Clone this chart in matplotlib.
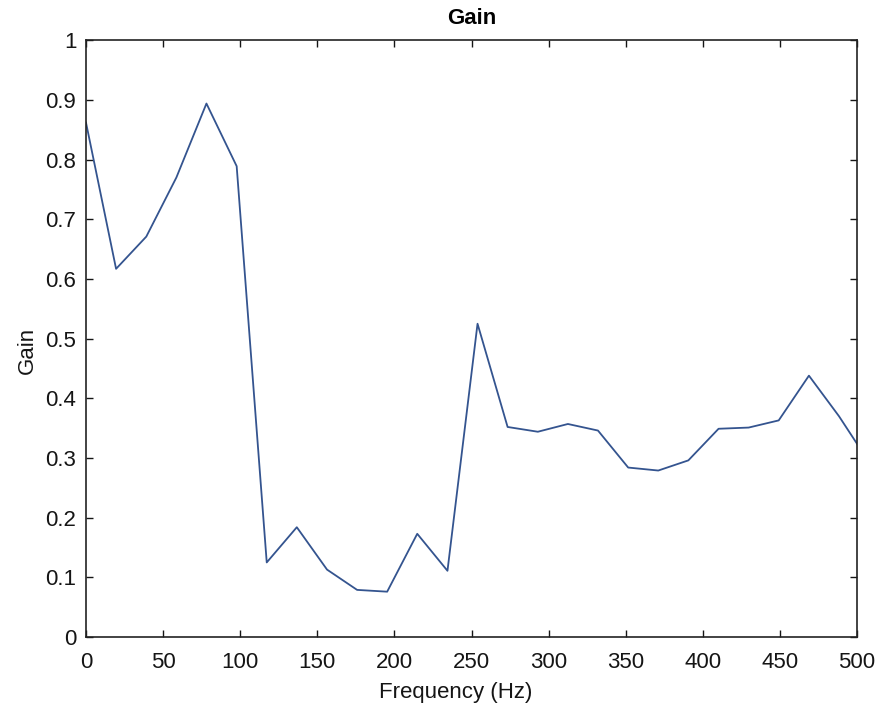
import matplotlib
matplotlib.use("Agg")
import matplotlib.pyplot as plt

# frequency bins (Hz) and measured gain
freq = [0, 19.5, 39.1, 58.6, 78.1, 97.7, 117.2, 136.7, 156.3, 175.8, 195.3,
        214.8, 234.4, 253.9, 273.4, 293.0, 312.5, 332.0, 351.6, 371.1, 390.6,
        410.2, 429.7, 449.2, 468.8, 488.3, 507.8]
gain = [0.862, 0.617, 0.671, 0.770, 0.894, 0.789, 0.125, 0.184, 0.113, 0.079,
        0.076, 0.173, 0.111, 0.525, 0.352, 0.344, 0.357, 0.346, 0.284, 0.279,
        0.296, 0.349, 0.351, 0.363, 0.438, 0.370, 0.293]

x_ticks = [0, 50, 100, 150, 200, 250, 300, 350, 400, 450, 500]
y_ticks = [0, 0.1, 0.2, 0.3, 0.4, 0.5, 0.6, 0.7, 0.8, 0.9, 1]
y_labels = ['0', '0.1', '0.2', '0.3', '0.4', '0.5', '0.6', '0.7', '0.8', '0.9', '1']

plt.rcParams['font.family'] = ['Liberation Sans', 'DejaVu Sans']

fig = plt.figure(figsize=(8.83, 7.19), dpi=100)
ax = fig.add_axes([0.0974, 0.114, 0.8732, 0.830])

ax.plot(freq, gain, color='#34548f', linewidth=1.3)

ax.set_xlim(0, 500)
ax.set_ylim(0, 1)
ax.set_xticks(x_ticks)
ax.set_yticks(y_ticks)
ax.set_yticklabels(y_labels)
ax.tick_params(direction='in', top=True, right=True, length=5, width=1,
               labelsize=16, colors='#151515')
ax.tick_params(axis='x', pad=11)
ax.tick_params(axis='y', pad=7)
for s in ax.spines.values():
    s.set_color('#222222')
    s.set_linewidth(1.2)

ax.set_xlabel('Frequency (Hz)', fontsize=16, color='#151515')
ax.xaxis.set_label_coords(0.479, -0.075)
ax.set_ylabel('Gain', fontsize=16, color='#151515')
ax.yaxis.set_label_coords(-0.063, 0.48)
ax.set_title('Gain', fontsize=16, fontweight='bold', pad=12)

fig.savefig('out.png', dpi=100)
